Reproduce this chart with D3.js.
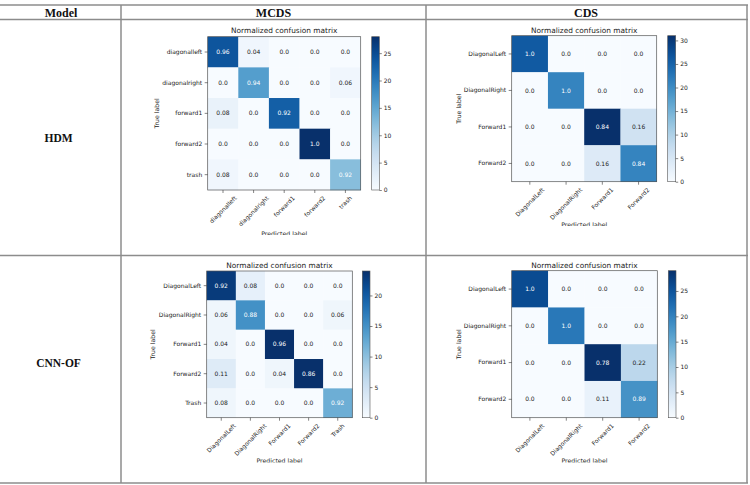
<!DOCTYPE html>
<html><head><meta charset="utf-8">
<script src="https://cdn.jsdelivr.net/npm/d3@7"></script>
<style>body{margin:0;background:#fff}svg{display:block}</style>
</head><body>
<svg id="c" width="750" height="485"></svg>
<script>
// ---------------- data ----------------
const headerLabels = ["Model", "MCDS", "CDS"];
const modelNames = ["HDM", "CNN-OF"];
const chartTitle = "Normalized confusion matrix";
const xAxisTitle = "Predicted label";
const yAxisTitle = "True label";

const hdmMcdsClasses = ["diagonalleft", "diagonalright", "forward1", "forward2", "trash"];
const hdmMcdsCounts = [[24,1,0,0,0],[0,16,0,0,1],[2,0,23,0,0],[0,0,0,28,0],[1,0,0,0,12]];
const hdmMcdsNorm = [[0.96,0.04,0,0,0],[0,0.94,0,0,0.06],[0.08,0,0.92,0,0],[0,0,0,1,0],[0.08,0,0,0,0.92]];
const hdmMcdsTicks = [0,5,10,15,20,25];

const hdmCdsClasses = ["DiagonalLeft", "DiagonalRight", "Forward1", "Forward2"];
const hdmCdsCounts = [[26,0,0,0],[0,21,0,0],[0,0,31,6],[0,0,4,21]];
const hdmCdsNorm = [[1,0,0,0],[0,1,0,0],[0,0,0.84,0.16],[0,0,0.16,0.84]];
const hdmCdsTicks = [0,5,10,15,20,25,30];

const cnnMcdsClasses = ["DiagonalLeft", "DiagonalRight", "Forward1", "Forward2", "Trash"];
const cnnMcdsCounts = [[23,2,0,0,0],[1,15,0,0,1],[1,0,24,0,0],[3,0,1,24,0],[1,0,0,0,12]];
const cnnMcdsNorm = [[0.92,0.08,0,0,0],[0.06,0.88,0,0,0.06],[0.04,0,0.96,0,0],[0.11,0,0.04,0.86,0],[0.08,0,0,0,0.92]];
const cnnMcdsTicks = [0,5,10,15,20];

const cnnCdsClasses = ["DiagonalLeft", "DiagonalRight", "Forward1", "Forward2"];
const cnnCdsCounts = [[26,0,0,0],[0,21,0,0],[0,0,29,8],[0,0,2,18]];
const cnnCdsNorm = [[1,0,0,0],[0,1,0,0],[0,0,0.78,0.22],[0,0,0.11,0.89]];
const cnnCdsTicks = [0,5,10,15,20,25];

// ---------------- layout ----------------
const panels = [
  {classes: hdmMcdsClasses, counts: hdmMcdsCounts, norm: hdmMcdsNorm, ticks: hdmMcdsTicks,
   box: {x0: 207.7, x1: 360.7, y0: 36.7, y1: 190}, cb: {x0: 371.7, x1: 379.3},
   titleY: 33.3, xlabY: 235.6, clipTop: 21, clipBottom: 235, ylabX: 157},
  {classes: hdmCdsClasses, counts: hdmCdsCounts, norm: hdmCdsNorm, ticks: hdmCdsTicks,
   box: {x0: 511.7, x1: 656.7, y0: 35.7, y1: 181.7}, cb: {x0: 667.7, x1: 675.7},
   titleY: 32.5, xlabY: 226.5, clipTop: 21, clipBottom: 226, ylabX: 459},
  {classes: cnnMcdsClasses, counts: cnnMcdsCounts, norm: cnnMcdsNorm, ticks: cnnMcdsTicks,
   box: {x0: 206.7, x1: 352.3, y0: 271, y1: 417.7}, cb: {x0: 362.3, x1: 370},
   titleY: 268.3, xlabY: 463, clipTop: 257, clipBottom: 462.5, ylabX: 153},
  {classes: cnnCdsClasses, counts: cnnCdsCounts, norm: cnnCdsNorm, ticks: cnnCdsTicks,
   box: {x0: 511.7, x1: 657.3, y0: 270.7, y1: 417.7}, cb: {x0: 668.3, x1: 676},
   titleY: 268.3, xlabY: 463, clipTop: 257, clipBottom: 462.5, ylabX: 459}
];

const svg = d3.select("#c");
const FONT = "'DejaVu Sans', sans-serif";
const fmt = v => (Number.isInteger(v) ? v.toFixed(1) : String(v));

// ---------------- table ----------------
const lineColor = "#8c8c8c";
const tbl = svg.append("g").attr("stroke", lineColor).attr("stroke-width", 1.5);
[5, 19.5, 255.5, 483].forEach(y => tbl.append("line").attr("x1", 0).attr("x2", 748).attr("y1", y).attr("y2", y));
[121, 426, 747].forEach(x => tbl.append("line").attr("x1", x).attr("x2", x).attr("y1", 5).attr("y2", 483));

const headerX = [61, 273.5, 586];
svg.append("g").selectAll("text").data(headerLabels).join("text")
  .attr("x", (d, i) => headerX[i]).attr("y", 16.5)
  .attr("text-anchor", "middle")
  .attr("font-family", "'Liberation Serif', 'Times New Roman', serif")
  .attr("font-weight", "bold").attr("font-size", 12).attr("fill", "#111")
  .text(d => d);

const modelY = [142, 367];
svg.append("g").selectAll("text").data(modelNames).join("text")
  .attr("x", 58.5).attr("y", (d, i) => modelY[i])
  .attr("text-anchor", "middle")
  .attr("font-family", "'Liberation Serif', 'Times New Roman', serif")
  .attr("font-weight", "bold").attr("font-size", 11.5).attr("fill", "#111")
  .text(d => d);

// ---------------- panels ----------------
const defs = svg.append("defs");
const grad = defs.append("linearGradient").attr("id", "blues")
  .attr("x1", 0).attr("y1", 1).attr("x2", 0).attr("y2", 0);
d3.range(0, 1.0001, 0.05).forEach(t => grad.append("stop").attr("offset", t).attr("stop-color", d3.interpolateBlues(t)));

panels.forEach((p, pi) => {
  const n = p.classes.length;
  const vmax = d3.max(p.counts.flat());
  const color = d3.scaleSequential(d3.interpolateBlues).domain([0, vmax]);
  const x = d3.scaleBand().domain(p.classes).range([p.box.x0, p.box.x1]);
  const y = d3.scaleBand().domain(p.classes).range([p.box.y0, p.box.y1]);

  defs.append("clipPath").attr("id", "clip" + pi).append("rect")
    .attr("x", p.box.x0 - 100).attr("y", p.clipTop).attr("width", 320).attr("height", p.clipBottom - p.clipTop);
  const g = svg.append("g").attr("clip-path", `url(#clip${pi})`).attr("font-family", FONT);

  // title
  g.append("text").attr("x", (p.box.x0 + p.box.x1) / 2).attr("y", p.titleY)
    .attr("text-anchor", "middle").attr("font-size", 7.4).attr("fill", "#222").text(chartTitle);

  // cells
  const cells = [];
  p.counts.forEach((row, i) => row.forEach((c, j) => cells.push({i, j, c, v: p.norm[i][j]})));
  g.append("g").selectAll("rect").data(cells).join("rect")
    .attr("x", d => x(p.classes[d.j])).attr("y", d => y(p.classes[d.i]))
    .attr("width", x.bandwidth() + 0.3).attr("height", y.bandwidth() + 0.3)
    .attr("fill", d => color(d.c));
  g.append("g").selectAll("text").data(cells).join("text")
    .attr("x", d => x(p.classes[d.j]) + x.bandwidth() / 2)
    .attr("y", d => y(p.classes[d.i]) + y.bandwidth() / 2)
    .attr("dy", "0.35em").attr("text-anchor", "middle").attr("font-size", 6)
    .attr("fill", d => d.v > 0.5 ? "#fff" : "#222")
    .text(d => fmt(d.v));

  // frame
  g.append("rect").attr("x", p.box.x0).attr("y", p.box.y0)
    .attr("width", p.box.x1 - p.box.x0).attr("height", p.box.y1 - p.box.y0)
    .attr("fill", "none").attr("stroke", "#555").attr("stroke-width", 0.7);

  // y axis
  const ya = g.append("g").attr("transform", `translate(${p.box.x0},0)`)
    .call(d3.axisLeft(y).tickSize(3).tickPadding(2.5));
  ya.select(".domain").remove();
  ya.selectAll("line").attr("stroke", "#333").attr("stroke-width", 0.6);
  ya.selectAll("text").attr("font-size", 6).attr("font-family", FONT).attr("fill", "#222");

  // x axis
  const xa = g.append("g").attr("transform", `translate(0,${p.box.y1})`)
    .call(d3.axisBottom(x).tickSize(3).tickPadding(2));
  xa.select(".domain").remove();
  xa.selectAll("line").attr("stroke", "#333").attr("stroke-width", 0.6);
  xa.selectAll("text").attr("font-size", 6).attr("font-family", FONT).attr("fill", "#222")
    .each(function() {
      const t = d3.select(this);
      const w = this.getComputedTextLength();
      const h = (w + 6) * Math.SQRT1_2;
      t.attr("text-anchor", "middle").attr("dy", "0.35em")
        .attr("y", 0)
        .attr("transform", `translate(0,${5 + h / 2}) rotate(-45)`);
    });

  // axis titles
  g.append("text").attr("transform", `translate(${p.ylabX},${(p.box.y0 + p.box.y1) / 2}) rotate(-90)`)
    .attr("text-anchor", "middle").attr("dy", "0.35em").attr("font-size", 6.2).attr("fill", "#222").text(yAxisTitle);
  g.append("text").attr("x", (p.box.x0 + p.box.x1) / 2).attr("y", p.xlabY)
    .attr("text-anchor", "middle").attr("font-size", 6.2).attr("fill", "#222").text(xAxisTitle);

  // colorbar
  const cs = d3.scaleLinear().domain([0, vmax]).range([p.box.y1, p.box.y0]);
  g.append("rect").attr("x", p.cb.x0).attr("y", p.box.y0)
    .attr("width", p.cb.x1 - p.cb.x0).attr("height", p.box.y1 - p.box.y0)
    .attr("fill", "url(#blues)").attr("stroke", "#555").attr("stroke-width", 0.6);
  const ca = g.append("g").attr("transform", `translate(${p.cb.x1},0)`)
    .call(d3.axisRight(cs).tickValues(p.ticks).tickSize(2.5).tickPadding(2));
  ca.select(".domain").remove();
  ca.selectAll("line").attr("stroke", "#333").attr("stroke-width", 0.6);
  ca.selectAll("text").attr("font-size", 6).attr("font-family", FONT).attr("fill", "#222");
});
</script>
</body></html>
